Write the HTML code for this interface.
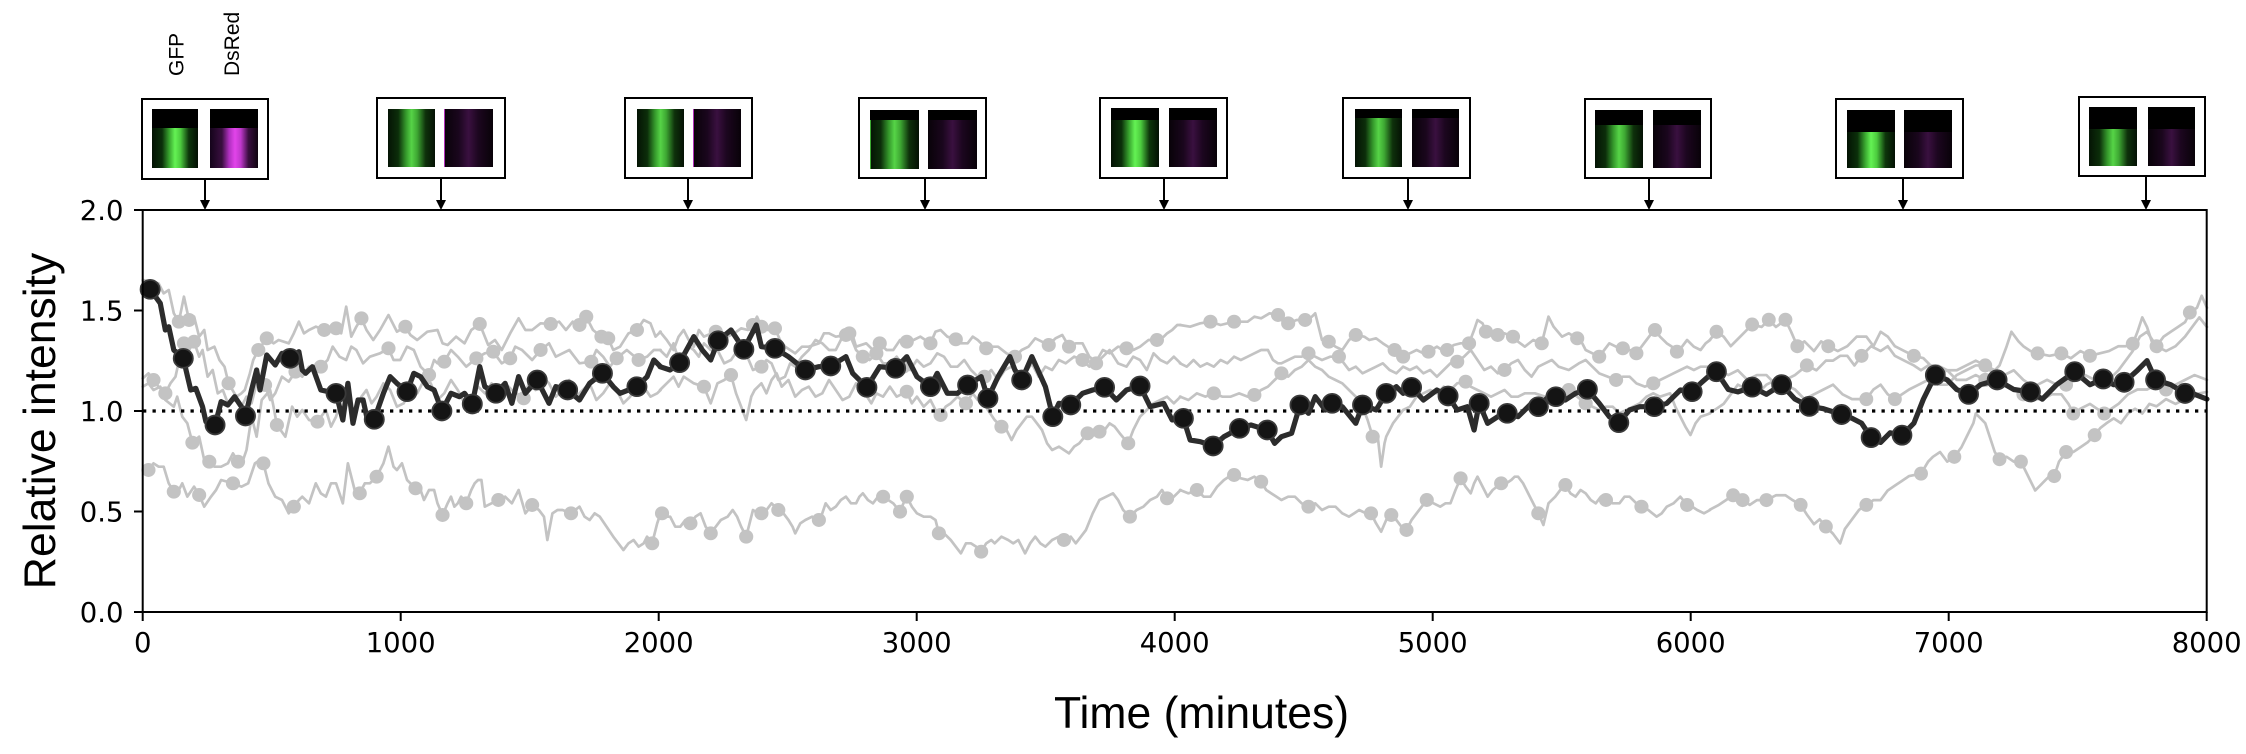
<!DOCTYPE html>
<html>
<head>
<meta charset="utf-8">
<style>
html,body{margin:0;padding:0;background:#fff;}
svg{display:block;}
</style>
</head>
<body>
<svg width="2246" height="754" viewBox="0 0 2246 754" xmlns="http://www.w3.org/2000/svg">
<defs>
<linearGradient id="gA" x1="0" y1="0" x2="1" y2="0">
<stop offset="0" stop-color="#031203"/><stop offset="0.22" stop-color="#0b300a"/><stop offset="0.38" stop-color="#3aa830"/><stop offset="0.5" stop-color="#64f254"/><stop offset="0.62" stop-color="#4ccc3e"/><stop offset="0.8" stop-color="#0d360b"/><stop offset="1" stop-color="#031003"/>
</linearGradient>
<linearGradient id="gB" x1="0" y1="0" x2="1" y2="0">
<stop offset="0" stop-color="#041304"/><stop offset="0.22" stop-color="#0c2e0a"/><stop offset="0.38" stop-color="#34972b"/><stop offset="0.5" stop-color="#56d447"/><stop offset="0.62" stop-color="#3ea833"/><stop offset="0.8" stop-color="#0e310b"/><stop offset="1" stop-color="#041104"/>
</linearGradient>
<linearGradient id="dA" x1="0" y1="0" x2="1" y2="0">
<stop offset="0" stop-color="#14041a"/><stop offset="0.25" stop-color="#3a0f40"/><stop offset="0.4" stop-color="#b030c0"/><stop offset="0.52" stop-color="#e244ea"/><stop offset="0.64" stop-color="#c038cc"/><stop offset="0.8" stop-color="#3a0e40"/><stop offset="1" stop-color="#100410"/>
</linearGradient>
<linearGradient id="dB" x1="0" y1="0" x2="1" y2="0">
<stop offset="0" stop-color="#080208"/><stop offset="0.3" stop-color="#1a061d"/><stop offset="0.5" stop-color="#3a1040"/><stop offset="0.7" stop-color="#1c061f"/><stop offset="1" stop-color="#080208"/>
</linearGradient>
</defs>
<rect x="0" y="0" width="2246" height="754" fill="#fff"/>

<!-- Inset labels -->
<text transform="translate(183.5,76) rotate(-90)" text-anchor="start" font-family="Liberation Sans, Arial, sans-serif" font-size="21" fill="#000">GFP</text>
<text transform="translate(239,76) rotate(-90)" text-anchor="start" font-family="Liberation Sans, Arial, sans-serif" font-size="21" fill="#000">DsRed</text>

<!-- Insets -->
<g stroke="#000" stroke-width="2" fill="#fff">
<rect x="142" y="99" width="126" height="80"/>
<rect x="377" y="98" width="128" height="80"/>
<rect x="625" y="98" width="127" height="80"/>
<rect x="859" y="98" width="127" height="80"/>
<rect x="1100" y="98" width="127" height="80"/>
<rect x="1343" y="98" width="127" height="80"/>
<rect x="1585" y="99" width="126" height="79"/>
<rect x="1836" y="99" width="127" height="79"/>
<rect x="2079" y="97" width="126" height="79"/>
</g>
<g stroke="none">
<rect x="152" y="109" width="46" height="59" fill="url(#gA)"/><rect x="152" y="109" width="46" height="19" fill="#000"/>
<rect x="210" y="109" width="48" height="59" fill="url(#dA)"/><rect x="210" y="109" width="48" height="19" fill="#000"/>
<rect x="388" y="109" width="47" height="58" fill="url(#gB)"/>
<rect x="444" y="109" width="49" height="58" fill="url(#dB)"/><rect x="444" y="109" width="1" height="58" fill="#b030b8"/>
<rect x="637" y="109" width="47" height="58" fill="url(#gB)"/>
<rect x="693" y="109" width="48" height="58" fill="url(#dB)"/><rect x="693" y="109" width="1" height="58" fill="#b030b8"/>
<rect x="870" y="110" width="49" height="59" fill="url(#gB)"/><rect x="870" y="110" width="49" height="10" fill="#000"/><rect x="870" y="120" width="1" height="49" fill="#3aa830"/>
<rect x="928" y="110" width="49" height="59" fill="url(#dB)"/><rect x="928" y="110" width="49" height="10" fill="#000"/>
<rect x="1111" y="108" width="48" height="59" fill="url(#gA)"/><rect x="1111" y="108" width="48" height="12" fill="#000"/>
<rect x="1169" y="108" width="48" height="59" fill="url(#dB)"/><rect x="1169" y="108" width="48" height="12" fill="#000"/>
<rect x="1355" y="109" width="47" height="58" fill="url(#gB)"/><rect x="1355" y="109" width="47" height="9" fill="#000"/>
<rect x="1412" y="109" width="47" height="58" fill="url(#dB)"/><rect x="1412" y="109" width="47" height="9" fill="#000"/>
<rect x="1595" y="110" width="48" height="58" fill="url(#gB)"/><rect x="1595" y="110" width="48" height="15" fill="#000"/>
<rect x="1653" y="110" width="48" height="58" fill="url(#dB)"/><rect x="1653" y="110" width="48" height="15" fill="#000"/>
<rect x="1847" y="110" width="48" height="58" fill="url(#gA)"/><rect x="1847" y="110" width="48" height="22" fill="#000"/>
<rect x="1904" y="110" width="48" height="58" fill="url(#dB)"/><rect x="1904" y="110" width="48" height="22" fill="#000"/>
<rect x="2089" y="107" width="48" height="59" fill="url(#gB)"/><rect x="2089" y="107" width="48" height="22" fill="#000"/>
<rect x="2148" y="107" width="47" height="59" fill="url(#dB)"/><rect x="2148" y="107" width="47" height="22" fill="#000"/>
</g>

<!-- Arrows -->
<g stroke="#000" stroke-width="2">
<line x1="205" y1="179" x2="205" y2="202"/>
<line x1="441" y1="178" x2="441" y2="202"/>
<line x1="688" y1="178" x2="688" y2="202"/>
<line x1="925" y1="178" x2="925" y2="202"/>
<line x1="1164" y1="178" x2="1164" y2="202"/>
<line x1="1408" y1="178" x2="1408" y2="202"/>
<line x1="1649" y1="178" x2="1649" y2="202"/>
<line x1="1903" y1="178" x2="1903" y2="202"/>
<line x1="2146" y1="176" x2="2146" y2="202"/>
</g>
<g fill="#000">
<polygon points="200,200 210,200 205,210"/>
<polygon points="436,200 446,200 441,210"/>
<polygon points="683,200 693,200 688,210"/>
<polygon points="920,200 930,200 925,210"/>
<polygon points="1159,200 1169,200 1164,210"/>
<polygon points="1403,200 1413,200 1408,210"/>
<polygon points="1644,200 1654,200 1649,210"/>
<polygon points="1898,200 1908,200 1903,210"/>
<polygon points="2141,200 2151,200 2146,210"/>
</g>

<!-- ===== GRAY SERIES ===== -->
<g fill="none" stroke="#c3c3c3" stroke-width="2.7" stroke-linejoin="round" stroke-linecap="round">
<g transform="translate(140,250) scale(0.33805,0.33333)">
<polyline vector-effect="non-scaling-stroke" points="8,90 30,95 55,100 70,130 85,120 100,190 115,215 130,140 145,210 160,200 175,260 190,240 200,300 220,290 235,330 250,350 262,400 285,440 300,430 310,420 325,370 335,330 350,300 375,265 395,280 410,270 440,280 455,250 470,215 485,250 500,240 520,230 545,240 580,235 595,250 610,170 625,260 640,230 655,205 670,240 690,270 710,240 735,195 760,245 785,230 800,255 820,270 850,245 880,240 895,280 910,285 935,260 960,280 980,240 1005,222 1030,285 1050,270 1070,300 1095,250 1120,205 1140,240 1160,240 1185,220 1215,222 1240,215 1260,240 1280,215 1300,225 1320,200 1340,240 1365,260 1385,265 1400,300 1420,290 1445,250 1470,240 1490,210 1510,220 1525,260 1540,245"/>
<polyline vector-effect="non-scaling-stroke" points="8,385 25,370 40,390 55,410 75,430 90,400 105,380 118,320 130,280 145,300 160,275 175,320 185,300 200,380 215,360 230,430 245,420 260,460 280,440 300,470 315,440 330,460 345,400 370,405 385,450 400,430 420,380 440,395 460,365 480,380 500,350 535,350 555,330 570,290 590,320 610,330 625,290 640,300 660,340 680,320 710,310 735,295 750,330 770,330 790,290 810,300 830,350 855,375 870,330 880,340 900,335 920,300 940,320 965,350 995,325 1020,310 1045,305 1070,340 1095,325 1110,290 1130,300 1160,330 1185,300 1210,280 1230,320 1250,310 1270,300 1300,340 1335,335 1350,300 1370,320 1390,350 1410,325 1440,300 1475,330 1500,320 1520,300 1540,300"/>
<polyline vector-effect="non-scaling-stroke" points="8,410 25,400 40,420 60,410 75,450 100,470 110,440 125,500 140,520 155,578 175,560 190,630 205,635 220,650 240,650 260,640 275,610 290,635 305,630 315,600 330,500 345,560 360,450 385,420 395,470 405,525 430,560 450,470 465,500 480,480 500,510 525,515 550,480 565,530 580,500 600,430 620,470 640,480 655,440 670,420 685,460 700,440 720,400 740,420 760,470 780,460 800,420 820,430 840,390 860,400 880,450 900,430 920,390 940,420 960,460 980,450 1000,410 1020,430 1040,400 1060,440 1080,400 1100,420 1135,445 1150,400 1170,420 1190,380 1210,400 1230,440 1250,420 1270,390 1290,440 1310,420 1330,400 1350,450 1370,430 1390,400 1410,420 1430,460 1450,440 1470,400 1490,410 1510,440 1530,430 1540,420"/>
<polyline vector-effect="non-scaling-stroke" points="8,660 25,660 40,640 55,650 70,650 85,700 100,725 115,720 125,700 140,740 160,710 175,735 190,770 210,740 225,720 240,690 275,700 300,710 320,700 340,640 355,630 365,640 380,700 400,740 420,750 440,790 455,770 470,750 480,740 500,760 520,700 535,730 550,740 565,700 580,700 600,760 615,640 635,720 650,730 665,700 680,700 700,680 720,640 735,590 750,650 760,660 775,640 790,690 815,715 830,720 840,750 855,720 870,720 880,760 895,795 910,760 920,740 930,770 940,760 950,740 965,760 980,720 990,700 1000,690 1010,690 1020,770 1040,760 1060,750 1080,740 1100,760 1120,720 1140,790 1160,765 1180,780 1195,800 1205,870 1220,790 1235,780 1250,780 1275,790 1300,770 1315,800 1330,810 1345,790 1360,800 1380,830 1400,860 1415,880 1430,900 1445,880 1460,870 1475,890 1490,880 1500,860 1515,880 1525,840 1530,820 1540,790"/>
<g fill="#c3c3c3" stroke="none">
<circle cx="115" cy="215" r="20.9"/><circle cx="145" cy="210" r="20.9"/><circle cx="262" cy="400" r="20.9"/><circle cx="350" cy="300" r="20.9"/><circle cx="375" cy="265" r="20.9"/><circle cx="545" cy="240" r="20.9"/><circle cx="580" cy="235" r="20.9"/><circle cx="655" cy="205" r="20.9"/><circle cx="785" cy="230" r="20.9"/><circle cx="1005" cy="222" r="20.9"/><circle cx="1215" cy="222" r="20.9"/><circle cx="1300" cy="225" r="20.9"/><circle cx="1320" cy="200" r="20.9"/><circle cx="1365" cy="260" r="20.9"/><circle cx="1385" cy="265" r="20.9"/><circle cx="1470" cy="240" r="20.9"/>
<circle cx="40" cy="390" r="20.9"/><circle cx="75" cy="430" r="20.9"/><circle cx="130" cy="280" r="20.9"/><circle cx="160" cy="275" r="20.9"/><circle cx="370" cy="405" r="20.9"/><circle cx="460" cy="365" r="20.9"/><circle cx="535" cy="350" r="20.9"/><circle cx="735" cy="295" r="20.9"/><circle cx="855" cy="375" r="20.9"/><circle cx="900" cy="335" r="20.9"/><circle cx="995" cy="325" r="20.9"/><circle cx="1045" cy="305" r="20.9"/><circle cx="1095" cy="325" r="20.9"/><circle cx="1185" cy="300" r="20.9"/><circle cx="1335" cy="335" r="20.9"/><circle cx="1410" cy="325" r="20.9"/><circle cx="1475" cy="330" r="20.9"/>
<circle cx="155" cy="578" r="20.9"/><circle cx="205" cy="635" r="20.9"/><circle cx="290" cy="635" r="20.9"/><circle cx="405" cy="525" r="20.9"/><circle cx="525" cy="515" r="20.9"/><circle cx="1135" cy="445" r="20.9"/>
<circle cx="25" cy="660" r="20.9"/><circle cx="100" cy="725" r="20.9"/><circle cx="175" cy="735" r="20.9"/><circle cx="275" cy="700" r="20.9"/><circle cx="365" cy="640" r="20.9"/><circle cx="455" cy="770" r="20.9"/><circle cx="650" cy="730" r="20.9"/><circle cx="700" cy="680" r="20.9"/><circle cx="815" cy="715" r="20.9"/><circle cx="895" cy="795" r="20.9"/><circle cx="965" cy="760" r="20.9"/><circle cx="1060" cy="750" r="20.9"/><circle cx="1160" cy="765" r="20.9"/><circle cx="1275" cy="790" r="20.9"/><circle cx="1515" cy="880" r="20.9"/>
</g>
</g>
<g transform="translate(660,250) scale(0.33805,0.33333)">
<polyline vector-effect="non-scaling-stroke" points="0,245 20,270 40,300 55,260 70,240 85,270 100,290 115,240 130,260 165,245 185,280 200,260 220,250 240,235 260,240 275,225 287,200 300,230 320,240 340,235 355,270 370,290 400,310 420,290 440,290 470,280 485,250 500,250 520,260 550,255 565,240 580,290 610,280 630,300 650,280 670,300 690,300 710,270 730,275 750,270 770,260 800,280 815,245 830,240 850,260 875,268 890,280 910,280 925,260 940,270 965,295 980,290 1000,290 1025,310 1050,320 1070,300 1090,290 1110,265 1130,275 1150,285 1170,265 1190,255 1210,290 1230,280 1250,280 1270,320 1290,335 1310,300 1330,310 1355,290 1380,295 1400,300 1420,290 1445,270 1470,270 1490,260 1500,250 1515,240 1530,225 1540,225"/>
<polyline vector-effect="non-scaling-stroke" points="0,300 20,320 40,280 55,330 70,320 85,290 100,300 115,320 130,280 150,300 170,300 190,340 210,330 230,300 250,300 275,360 300,350 315,330 330,340 350,390 370,380 385,340 400,350 420,320 440,300 460,270 480,280 500,300 520,300 540,260 560,250 580,300 600,320 620,330 640,310 660,340 680,340 700,320 720,350 740,360 760,330 780,350 800,340 820,310 840,320 860,350 880,350 900,330 920,360 940,380 960,380 980,360 1000,390 1020,360 1040,350 1060,380 1080,370 1100,340 1120,380 1140,350 1160,360 1180,330 1200,340 1225,320 1250,330 1270,350 1290,340 1310,320 1330,300 1355,340 1380,350 1400,320 1420,330 1440,360 1460,310 1480,330 1500,340 1520,320 1540,340"/>
<polyline vector-effect="non-scaling-stroke" points="0,420 20,400 40,380 55,410 70,380 100,400 130,410 150,460 170,400 190,390 210,375 225,430 240,470 255,510 270,440 280,420 300,400 315,430 330,390 345,370 360,410 380,390 400,440 420,420 440,410 460,440 480,430 500,390 520,420 540,450 560,440 580,400 600,420 625,460 640,430 660,440 680,410 700,440 730,425 745,460 760,440 780,470 800,450 815,480 830,495 845,470 860,460 880,440 905,460 925,430 940,450 960,460 970,480 990,510 1010,530 1025,540 1040,570 1055,540 1070,520 1085,500 1100,500 1115,520 1130,540 1145,580 1160,600 1180,590 1195,600 1210,610 1225,590 1240,580 1265,550 1280,540 1300,545 1315,540 1330,520 1345,530 1360,550 1385,580 1400,540 1420,500 1440,480 1460,460 1480,450 1500,440 1520,460 1540,440"/>
<polyline vector-effect="non-scaling-stroke" points="0,790 15,800 30,800 45,830 60,830 75,810 90,820 105,800 120,790 135,830 150,850 165,830 180,810 200,800 215,780 228,800 240,830 255,860 265,820 275,780 290,790 300,790 315,780 330,760 350,780 365,790 380,810 392,830 400,850 415,820 430,810 450,800 470,810 480,790 490,760 505,780 520,770 535,750 550,740 565,760 580,760 590,740 600,730 615,750 630,760 645,740 660,740 675,750 690,760 710,785 720,760 730,740 745,770 760,790 780,800 800,800 815,810 825,850 840,850 860,870 875,890 890,910 905,880 920,880 935,890 950,905 965,880 980,870 990,880 1010,860 1030,870 1045,880 1060,870 1080,910 1095,880 1110,860 1125,880 1140,890 1160,870 1180,860 1195,870 1215,860 1230,880 1245,860 1260,840 1280,790 1300,750 1320,740 1340,730 1355,750 1370,780 1390,800 1410,780 1430,770 1450,750 1470,740 1485,720 1500,745 1520,740 1540,720"/>
<g fill="#c3c3c3" stroke="none">
<circle cx="165" cy="245" r="20.9"/><circle cx="275" cy="225" r="20.9"/><circle cx="300" cy="230" r="20.9"/><circle cx="340" cy="235" r="20.9"/><circle cx="550" cy="255" r="20.9"/><circle cx="650" cy="280" r="20.9"/><circle cx="730" cy="275" r="20.9"/><circle cx="800" cy="280" r="20.9"/><circle cx="875" cy="268" r="20.9"/><circle cx="965" cy="295" r="20.9"/><circle cx="1050" cy="320" r="20.9"/><circle cx="1150" cy="285" r="20.9"/><circle cx="1210" cy="290" r="20.9"/><circle cx="1380" cy="295" r="20.9"/><circle cx="1470" cy="270" r="20.9"/>
<circle cx="300" cy="350" r="20.9"/><circle cx="560" cy="250" r="20.9"/><circle cx="600" cy="320" r="20.9"/><circle cx="640" cy="310" r="20.9"/><circle cx="720" cy="350" r="20.9"/><circle cx="960" cy="380" r="20.9"/><circle cx="1250" cy="330" r="20.9"/><circle cx="1290" cy="340" r="20.9"/>
<circle cx="130" cy="410" r="20.9"/><circle cx="210" cy="375" r="20.9"/><circle cx="730" cy="425" r="20.9"/><circle cx="830" cy="495" r="20.9"/><circle cx="905" cy="460" r="20.9"/><circle cx="1010" cy="530" r="20.9"/><circle cx="1265" cy="550" r="20.9"/><circle cx="1300" cy="545" r="20.9"/><circle cx="1385" cy="580" r="20.9"/>
<circle cx="6" cy="790" r="20.9"/><circle cx="90" cy="820" r="20.9"/><circle cx="150" cy="850" r="20.9"/><circle cx="255" cy="860" r="20.9"/><circle cx="300" cy="790" r="20.9"/><circle cx="350" cy="780" r="20.9"/><circle cx="470" cy="810" r="20.9"/><circle cx="660" cy="740" r="20.9"/><circle cx="710" cy="785" r="20.9"/><circle cx="730" cy="740" r="20.9"/><circle cx="825" cy="850" r="20.9"/><circle cx="950" cy="905" r="20.9"/><circle cx="1195" cy="870" r="20.9"/><circle cx="1390" cy="800" r="20.9"/><circle cx="1500" cy="745" r="20.9"/>
</g>
</g>
<g transform="translate(1180,250) scale(0.33805,0.33333)">
<polyline vector-effect="non-scaling-stroke" points="0,225 30,230 60,220 90,215 120,225 160,215 200,215 220,200 240,205 265,190 290,195 305,215 320,220 345,210 370,210 390,200 400,190 410,230 420,270 440,275 460,290 480,300 500,270 520,255 545,260 560,270 580,265 600,280 615,290 635,300 660,320 680,310 700,300 720,310 735,305 760,290 775,300 790,300 810,285 830,280 855,280 870,240 880,210 895,220 905,245 920,250 940,255 960,250 985,260 1000,275 1020,290 1045,270 1070,280 1080,240 1090,200 1105,230 1130,260 1150,250 1175,265 1190,280 1200,300 1220,310 1240,320 1255,300 1270,280 1290,290 1310,295 1330,300 1350,310 1365,290 1380,270 1395,250 1405,240 1420,260 1440,280 1455,290 1470,305 1485,290 1500,270 1520,290 1540,300 1555,280 1568,270"/>
<polyline vector-effect="non-scaling-stroke" points="0,340 20,350 40,330 60,350 80,340 100,350 120,330 140,340 160,320 180,330 200,320 220,310 240,300 260,300 275,330 290,340 300,340 320,330 340,320 360,320 380,310 400,320 420,330 445,320 470,320 485,340 500,360 520,350 540,370 560,360 580,350 600,340 620,360 640,370 660,350 680,360 700,350 720,370 740,360 760,380 780,360 800,340 820,335 840,320 860,300 880,330 900,360 920,350 940,370 960,360 980,340 1000,330 1020,360 1040,380 1060,350 1080,340 1100,330 1120,350 1150,360 1180,340 1200,330 1220,350 1240,370 1265,380 1290,390 1310,380 1330,380 1350,400 1375,410 1400,400 1420,390 1440,380 1460,370 1480,360 1500,350 1520,360 1540,350 1568,350"/>
<polyline vector-effect="non-scaling-stroke" points="0,440 25,450 50,430 75,440 100,430 125,440 150,440 175,430 200,440 220,435 240,420 260,410 280,390 300,370 320,380 340,360 360,350 380,330 400,350 420,360 440,380 460,390 480,400 500,420 520,440 540,470 555,510 570,560 585,560 595,650 605,580 610,560 620,540 630,520 645,500 660,480 680,470 700,440 720,430 740,420 760,430 780,410 800,420 820,400 845,395 860,410 880,420 900,430 920,440 940,430 960,420 980,440 1000,440 1020,430 1050,430 1080,440 1110,430 1130,420 1150,420 1175,440 1200,460 1220,470 1240,480 1260,470 1280,470 1300,490 1320,480 1340,470 1360,460 1380,440 1400,430 1420,440 1450,430 1465,470 1480,500 1495,530 1510,555 1525,520 1540,500 1555,495 1568,490"/>
<polyline vector-effect="non-scaling-stroke" points="0,720 25,730 50,720 70,740 90,740 110,710 130,690 145,680 160,675 180,685 200,690 220,680 240,695 255,720 270,730 285,740 300,750 320,740 340,740 360,760 380,770 400,760 420,780 440,770 460,770 480,790 500,800 515,790 530,780 550,790 565,790 580,820 595,845 610,810 625,795 640,810 655,830 670,840 685,810 700,790 715,770 730,750 750,760 770,770 785,760 800,760 815,720 830,685 845,710 860,730 870,700 880,680 895,710 910,740 925,720 950,700 965,700 980,690 990,680 1000,680 1015,700 1030,730 1045,760 1060,790 1075,825 1090,760 1110,740 1125,720 1140,705 1155,730 1170,740 1185,720 1200,730 1215,750 1230,760 1245,740 1260,750 1280,760 1300,760 1315,740 1330,740 1350,760 1365,770 1385,780 1410,800 1425,790 1440,770 1460,760 1480,740 1500,765 1515,770 1530,780 1550,790 1568,780"/>
<g fill="#c3c3c3" stroke="none">
<circle cx="90" cy="215" r="20.9"/><circle cx="160" cy="215" r="20.9"/><circle cx="290" cy="195" r="20.9"/><circle cx="320" cy="220" r="20.9"/><circle cx="370" cy="210" r="20.9"/><circle cx="440" cy="275" r="20.9"/><circle cx="520" cy="255" r="20.9"/><circle cx="635" cy="300" r="20.9"/><circle cx="660" cy="320" r="20.9"/><circle cx="735" cy="305" r="20.9"/><circle cx="790" cy="300" r="20.9"/><circle cx="855" cy="280" r="20.9"/><circle cx="905" cy="245" r="20.9"/><circle cx="940" cy="255" r="20.9"/><circle cx="985" cy="260" r="20.9"/><circle cx="1070" cy="280" r="20.9"/><circle cx="1175" cy="265" r="20.9"/><circle cx="1240" cy="320" r="20.9"/><circle cx="1310" cy="295" r="20.9"/><circle cx="1350" cy="310" r="20.9"/><circle cx="1405" cy="240" r="20.9"/><circle cx="1470" cy="305" r="20.9"/>
<circle cx="380" cy="310" r="20.9"/><circle cx="470" cy="320" r="20.9"/><circle cx="820" cy="335" r="20.9"/><circle cx="960" cy="360" r="20.9"/><circle cx="1290" cy="390" r="20.9"/><circle cx="1400" cy="400" r="20.9"/>
<circle cx="100" cy="430" r="20.9"/><circle cx="220" cy="435" r="20.9"/><circle cx="300" cy="370" r="20.9"/><circle cx="570" cy="560" r="20.9"/><circle cx="845" cy="395" r="20.9"/><circle cx="1150" cy="420" r="20.9"/><circle cx="1200" cy="460" r="20.9"/>
<circle cx="50" cy="720" r="20.9"/><circle cx="160" cy="675" r="20.9"/><circle cx="240" cy="695" r="20.9"/><circle cx="380" cy="770" r="20.9"/><circle cx="565" cy="790" r="20.9"/><circle cx="625" cy="795" r="20.9"/><circle cx="670" cy="840" r="20.9"/><circle cx="730" cy="750" r="20.9"/><circle cx="830" cy="685" r="20.9"/><circle cx="950" cy="700" r="20.9"/><circle cx="1060" cy="790" r="20.9"/><circle cx="1140" cy="705" r="20.9"/><circle cx="1260" cy="750" r="20.9"/><circle cx="1365" cy="770" r="20.9"/><circle cx="1500" cy="765" r="20.9"/>
</g>
</g>
<g transform="translate(1500,0) scale(0.47574,0.48086)">
<polyline vector-effect="non-scaling-stroke" points="441,707 455,690 470,700 485,720 500,705 515,690 530,675 550,680 565,665 580,680 600,665 612,690 625,720 640,710 660,730 675,710 690,720 710,730 730,720 750,700 770,700 785,720 800,690 815,700 830,720 850,730 870,740 890,745 905,760 920,760 940,770 960,770 980,760 1000,750 1020,760 1040,770 1050,760 1065,720 1075,690 1090,710 1100,720 1115,730 1130,735 1155,740 1180,735 1200,745 1220,730 1240,740 1260,735 1280,730 1300,720 1315,720 1330,715 1340,690 1350,660 1360,680 1370,710 1380,720 1395,700 1410,690 1425,680 1440,670 1450,650 1465,640 1475,615 1486,640"/>
<polyline vector-effect="non-scaling-stroke" points="441,762 460,770 480,780 500,770 520,790 540,780 560,780 580,800 600,790 620,780 645,760 665,770 685,750 700,750 715,740 730,740 745,760 760,740 780,720 800,730 815,720 830,740 850,750 870,760 885,770 900,760 920,780 940,770 960,790 980,790 1000,780 1020,790 1040,780 1060,780 1080,770 1100,790 1115,800 1130,800 1150,790 1170,800 1190,800 1210,790 1230,780 1250,790 1270,790 1290,780 1300,770 1315,750 1330,730 1345,700 1360,690 1380,720 1400,730 1420,720 1440,700 1455,680 1470,660 1486,680"/>
<polyline vector-effect="non-scaling-stroke" points="441,859 455,850 470,840 485,820 500,800 520,810 540,820 560,800 580,790 600,800 620,810 640,830 660,820 680,810 700,800 720,820 740,830 770,830 785,810 800,800 815,820 830,830 845,820 860,810 880,800 900,790 920,800 940,800 960,780 980,770 1000,760 1020,760 1040,780 1060,800 1080,810 1100,820 1120,830 1140,830 1160,820 1180,820 1195,840 1205,860 1220,850 1240,840 1255,850 1270,860 1285,850 1300,840 1320,820 1340,810 1360,810 1380,800 1400,810 1420,800 1440,790 1460,780 1486,790"/>
<polyline vector-effect="non-scaling-stroke" points="441,1060 460,1050 475,1040 490,1030 500,1035 510,1040 525,1050 540,1040 560,1040 580,1030 600,1030 615,1040 632,1050 645,1070 660,1090 672,1080 685,1095 700,1110 715,1130 725,1100 740,1080 755,1060 770,1050 785,1040 800,1040 815,1020 830,1010 845,1000 860,990 885,985 900,960 910,950 925,940 940,960 955,950 970,930 985,900 995,880 1000,860 1010,870 1020,880 1030,910 1040,940 1050,955 1065,950 1080,960 1095,960 1105,980 1115,1000 1125,1020 1135,1010 1145,1000 1155,990 1165,990 1175,960 1190,940 1205,940 1220,930 1235,920 1250,905 1262,890 1275,880 1290,870 1305,880 1320,860 1335,850 1350,860 1365,840 1380,845 1400,830 1420,840 1440,830 1460,820 1486,815"/>
<g fill="#c3c3c3" stroke="none">
<circle cx="455" cy="690" r="14.6"/><circle cx="530" cy="675" r="14.6"/><circle cx="565" cy="665" r="14.6"/><circle cx="600" cy="665" r="14.6"/><circle cx="625" cy="720" r="14.6"/><circle cx="690" cy="720" r="14.6"/><circle cx="870" cy="740" r="14.6"/><circle cx="1020" cy="760" r="14.6"/><circle cx="1130" cy="735" r="14.6"/><circle cx="1180" cy="735" r="14.6"/><circle cx="1240" cy="740" r="14.6"/><circle cx="1330" cy="715" r="14.6"/><circle cx="1380" cy="720" r="14.6"/><circle cx="1450" cy="650" r="14.6"/>
<circle cx="645" cy="760" r="14.6"/><circle cx="760" cy="740" r="14.6"/><circle cx="1020" cy="790" r="14.6"/><circle cx="1190" cy="800" r="14.6"/><circle cx="1270" cy="790" r="14.6"/>
<circle cx="770" cy="830" r="14.6"/><circle cx="830" cy="830" r="14.6"/><circle cx="1100" cy="820" r="14.6"/><circle cx="1205" cy="860" r="14.6"/><circle cx="1270" cy="860" r="14.6"/><circle cx="1400" cy="810" r="14.6"/>
<circle cx="490" cy="1030" r="14.6"/><circle cx="510" cy="1040" r="14.6"/><circle cx="560" cy="1040" r="14.6"/><circle cx="632" cy="1050" r="14.6"/><circle cx="685" cy="1095" r="14.6"/><circle cx="770" cy="1050" r="14.6"/><circle cx="885" cy="985" r="14.6"/><circle cx="955" cy="950" r="14.6"/><circle cx="1050" cy="955" r="14.6"/><circle cx="1095" cy="960" r="14.6"/><circle cx="1165" cy="990" r="14.6"/><circle cx="1190" cy="940" r="14.6"/><circle cx="1250" cy="905" r="14.6"/>
</g>
</g>
</g>

<!-- dotted reference line -->
<line x1="143" y1="411" x2="2206" y2="411" stroke="#000" stroke-width="3.3" stroke-dasharray="3.3 6.2"/>

<!-- ===== BLACK SERIES ===== -->
<g fill="none" stroke="#2c2c2c" stroke-width="5.2" stroke-linejoin="round" stroke-linecap="round">
<g transform="translate(140,250) scale(0.33805,0.33333)">
<polyline vector-effect="non-scaling-stroke" points="8,110 30,118 60,160 75,240 85,230 100,300 128,325 150,420 165,415 185,470 195,515 222,525 240,455 260,465 280,440 300,470 312,498 330,420 345,360 355,420 375,315 400,345 420,310 444,325 470,305 480,360 490,370 510,350 535,420 580,430 600,510 615,400 630,520 645,450 660,450 675,520 693,508 720,430 740,380 760,400 790,425 810,370 830,380 850,410 870,420 893,483 920,430 945,440 960,430 983,462 1005,350 1020,410 1053,430 1080,400 1100,460 1120,380 1140,430 1175,390 1210,460 1230,410 1265,420 1300,450 1330,400 1368,370 1400,410 1420,430 1470,410 1500,380 1520,330 1540,350"/>
</g>
<g transform="translate(660,250) scale(0.33805,0.33333)">
<polyline vector-effect="non-scaling-stroke" points="0,350 30,360 58,338 100,260 125,300 150,330 172,272 210,240 248,298 285,225 300,290 340,295 380,320 430,360 470,350 505,348 550,320 570,370 612,412 650,350 697,355 730,320 760,380 800,410 820,370 850,430 880,430 910,405 950,380 970,445 1000,380 1035,320 1050,360 1070,390 1100,320 1140,410 1162,500 1180,460 1215,465 1250,430 1280,420 1315,412 1350,450 1380,420 1420,408 1450,470 1490,460 1515,510 1540,505"/>
</g>
<g transform="translate(1180,250) scale(0.33805,0.33333)">
<polyline vector-effect="non-scaling-stroke" points="0,505 10,505 30,570 60,575 98,588 130,560 176,535 210,525 258,540 280,580 300,560 330,550 355,465 380,490 400,440 430,480 450,460 480,470 520,520 540,465 580,480 610,430 640,410 660,430 685,412 720,450 760,420 793,438 820,480 850,470 870,540 885,460 910,520 940,500 968,490 1000,500 1040,460 1060,470 1090,440 1112,440 1140,450 1170,430 1205,418 1240,460 1270,500 1298,518 1330,480 1360,470 1403,470 1440,460 1480,420 1515,425 1540,400 1568,375"/>
</g>
<g transform="translate(1500,0) scale(0.47574,0.48086)">
<polyline vector-effect="non-scaling-stroke" points="441,780 455,773 480,810 500,815 530,805 560,820 592,800 620,830 650,845 680,850 718,862 740,870 760,880 780,910 800,920 820,900 845,905 870,880 890,830 915,780 940,790 960,810 985,820 1010,800 1045,790 1080,810 1115,815 1140,830 1170,800 1208,773 1240,800 1268,788 1290,800 1312,795 1340,770 1360,750 1378,790 1410,800 1440,818 1460,820 1486,830"/>
</g>
</g>
<g fill="#141414" stroke="#3a3a3a" stroke-width="1.8">
<g transform="translate(140,250) scale(0.33805,0.33333)">
<circle vector-effect="non-scaling-stroke" cx="30" cy="118" r="28.3"/><circle vector-effect="non-scaling-stroke" cx="128" cy="325" r="28.3"/><circle vector-effect="non-scaling-stroke" cx="222" cy="525" r="28.3"/><circle vector-effect="non-scaling-stroke" cx="312" cy="498" r="28.3"/><circle vector-effect="non-scaling-stroke" cx="444" cy="325" r="28.3"/><circle vector-effect="non-scaling-stroke" cx="580" cy="430" r="28.3"/><circle vector-effect="non-scaling-stroke" cx="693" cy="508" r="28.3"/><circle vector-effect="non-scaling-stroke" cx="790" cy="425" r="28.3"/><circle vector-effect="non-scaling-stroke" cx="893" cy="483" r="28.3"/><circle vector-effect="non-scaling-stroke" cx="983" cy="462" r="28.3"/><circle vector-effect="non-scaling-stroke" cx="1053" cy="430" r="28.3"/><circle vector-effect="non-scaling-stroke" cx="1175" cy="390" r="28.3"/><circle vector-effect="non-scaling-stroke" cx="1265" cy="420" r="28.3"/><circle vector-effect="non-scaling-stroke" cx="1368" cy="370" r="28.3"/><circle vector-effect="non-scaling-stroke" cx="1470" cy="410" r="28.3"/>
</g>
<g transform="translate(660,250) scale(0.33805,0.33333)">
<circle vector-effect="non-scaling-stroke" cx="58" cy="338" r="28.3"/><circle vector-effect="non-scaling-stroke" cx="172" cy="272" r="28.3"/><circle vector-effect="non-scaling-stroke" cx="248" cy="298" r="28.3"/><circle vector-effect="non-scaling-stroke" cx="340" cy="295" r="28.3"/><circle vector-effect="non-scaling-stroke" cx="430" cy="360" r="28.3"/><circle vector-effect="non-scaling-stroke" cx="505" cy="348" r="28.3"/><circle vector-effect="non-scaling-stroke" cx="612" cy="412" r="28.3"/><circle vector-effect="non-scaling-stroke" cx="697" cy="355" r="28.3"/><circle vector-effect="non-scaling-stroke" cx="800" cy="410" r="28.3"/><circle vector-effect="non-scaling-stroke" cx="910" cy="405" r="28.3"/><circle vector-effect="non-scaling-stroke" cx="970" cy="445" r="28.3"/><circle vector-effect="non-scaling-stroke" cx="1070" cy="390" r="28.3"/><circle vector-effect="non-scaling-stroke" cx="1162" cy="500" r="28.3"/><circle vector-effect="non-scaling-stroke" cx="1215" cy="465" r="28.3"/><circle vector-effect="non-scaling-stroke" cx="1315" cy="412" r="28.3"/><circle vector-effect="non-scaling-stroke" cx="1420" cy="408" r="28.3"/>
</g>
<g transform="translate(1180,250) scale(0.33805,0.33333)">
<circle vector-effect="non-scaling-stroke" cx="10" cy="505" r="28.3"/><circle vector-effect="non-scaling-stroke" cx="98" cy="588" r="28.3"/><circle vector-effect="non-scaling-stroke" cx="176" cy="535" r="28.3"/><circle vector-effect="non-scaling-stroke" cx="258" cy="540" r="28.3"/><circle vector-effect="non-scaling-stroke" cx="355" cy="465" r="28.3"/><circle vector-effect="non-scaling-stroke" cx="450" cy="460" r="28.3"/><circle vector-effect="non-scaling-stroke" cx="540" cy="465" r="28.3"/><circle vector-effect="non-scaling-stroke" cx="610" cy="430" r="28.3"/><circle vector-effect="non-scaling-stroke" cx="685" cy="412" r="28.3"/><circle vector-effect="non-scaling-stroke" cx="793" cy="438" r="28.3"/><circle vector-effect="non-scaling-stroke" cx="885" cy="460" r="28.3"/><circle vector-effect="non-scaling-stroke" cx="968" cy="490" r="28.3"/><circle vector-effect="non-scaling-stroke" cx="1060" cy="470" r="28.3"/><circle vector-effect="non-scaling-stroke" cx="1112" cy="440" r="28.3"/><circle vector-effect="non-scaling-stroke" cx="1205" cy="418" r="28.3"/><circle vector-effect="non-scaling-stroke" cx="1298" cy="518" r="28.3"/><circle vector-effect="non-scaling-stroke" cx="1403" cy="470" r="28.3"/><circle vector-effect="non-scaling-stroke" cx="1515" cy="425" r="28.3"/>
</g>
<g transform="translate(1500,0) scale(0.47574,0.48086)">
<circle vector-effect="non-scaling-stroke" cx="455" cy="773" r="19.9"/><circle vector-effect="non-scaling-stroke" cx="530" cy="805" r="19.9"/><circle vector-effect="non-scaling-stroke" cx="592" cy="800" r="19.9"/><circle vector-effect="non-scaling-stroke" cx="650" cy="845" r="19.9"/><circle vector-effect="non-scaling-stroke" cx="718" cy="862" r="19.9"/><circle vector-effect="non-scaling-stroke" cx="780" cy="910" r="19.9"/><circle vector-effect="non-scaling-stroke" cx="845" cy="905" r="19.9"/><circle vector-effect="non-scaling-stroke" cx="915" cy="780" r="19.9"/><circle vector-effect="non-scaling-stroke" cx="985" cy="820" r="19.9"/><circle vector-effect="non-scaling-stroke" cx="1045" cy="790" r="19.9"/><circle vector-effect="non-scaling-stroke" cx="1115" cy="815" r="19.9"/><circle vector-effect="non-scaling-stroke" cx="1208" cy="773" r="19.9"/><circle vector-effect="non-scaling-stroke" cx="1268" cy="788" r="19.9"/><circle vector-effect="non-scaling-stroke" cx="1312" cy="795" r="19.9"/><circle vector-effect="non-scaling-stroke" cx="1378" cy="790" r="19.9"/><circle vector-effect="non-scaling-stroke" cx="1440" cy="818" r="19.9"/>
</g>
</g>

<!-- Axes frame -->
<rect x="142.7" y="210" width="2064" height="402" fill="none" stroke="#000" stroke-width="2"/>

<!-- Y ticks -->
<g stroke="#000" stroke-width="2">
<line x1="134" y1="612" x2="142.7" y2="612"/>
<line x1="134" y1="511.5" x2="142.7" y2="511.5"/>
<line x1="134" y1="411" x2="142.7" y2="411"/>
<line x1="134" y1="310.5" x2="142.7" y2="310.5"/>
<line x1="134" y1="210" x2="142.7" y2="210"/>
</g>
<g font-family="DejaVu Sans, Liberation Sans, sans-serif" font-size="27.5" fill="#000" text-anchor="end">
<text x="123.5" y="622">0.0</text>
<text x="123.5" y="521.5">0.5</text>
<text x="123.5" y="421">1.0</text>
<text x="123.5" y="320.5">1.5</text>
<text x="123.5" y="220">2.0</text>
</g>

<!-- X ticks -->
<g stroke="#000" stroke-width="2">
<line x1="142.7" y1="612" x2="142.7" y2="621"/>
<line x1="400.7" y1="612" x2="400.7" y2="621"/>
<line x1="658.7" y1="612" x2="658.7" y2="621"/>
<line x1="916.7" y1="612" x2="916.7" y2="621"/>
<line x1="1174.7" y1="612" x2="1174.7" y2="621"/>
<line x1="1432.7" y1="612" x2="1432.7" y2="621"/>
<line x1="1690.7" y1="612" x2="1690.7" y2="621"/>
<line x1="1948.7" y1="612" x2="1948.7" y2="621"/>
<line x1="2206.7" y1="612" x2="2206.7" y2="621"/>
</g>
<g font-family="DejaVu Sans, Liberation Sans, sans-serif" font-size="27.5" fill="#000" text-anchor="middle">
<text x="142.7" y="652">0</text>
<text x="400.7" y="652">1000</text>
<text x="658.7" y="652">2000</text>
<text x="916.7" y="652">3000</text>
<text x="1174.7" y="652">4000</text>
<text x="1432.7" y="652">5000</text>
<text x="1690.7" y="652">6000</text>
<text x="1948.7" y="652">7000</text>
<text x="2206.7" y="652">8000</text>
</g>

<!-- Axis labels -->
<text x="1201.5" y="728" text-anchor="middle" font-family="Liberation Sans, Arial, sans-serif" font-size="44.5" fill="#000">Time (minutes)</text>
<text transform="translate(55,421) rotate(-90)" text-anchor="middle" font-family="Liberation Sans, Arial, sans-serif" font-size="44.5" fill="#000">Relative intensity</text>
</svg>
</body>
</html>
